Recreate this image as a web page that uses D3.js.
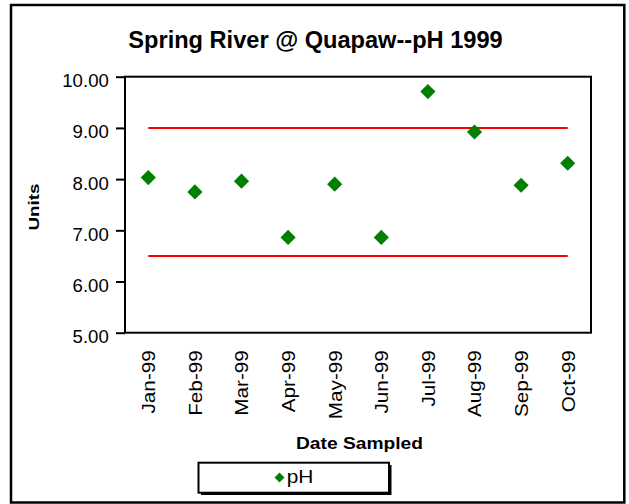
<!DOCTYPE html>
<html>
<head>
<meta charset="utf-8">
<script src="https://cdn.jsdelivr.net/npm/d3@7/dist/d3.min.js"></script>
<style>
  html, body { margin: 0; padding: 0; background: #fff; }
  svg { display: block; font-family: "Liberation Sans", Arial, sans-serif; }
</style>
</head>
<body>
<svg id="chart" width="629" height="504"></svg>
<script>
// ---- data ----
const categories = ["Jan-99","Feb-99","Mar-99","Apr-99","May-99","Jun-99","Jul-99","Aug-99","Sep-99","Oct-99"];
const phValues   = [8.03, 7.75, 7.96, 6.86, 7.90, 6.86, 9.71, 8.92, 7.88, 8.31];
const upperLimit = 9.0;
const lowerLimit = 6.5;
const yTicks     = [5, 6, 7, 8, 9, 10];
const titleText  = "Spring River @ Quapaw--pH 1999";
const xTitle     = "Date Sampled";
const yTitle     = "Units";
const seriesName = "pH";

// ---- layout ----
const svg = d3.select("#chart");
const plot = { left: 125, right: 591, top: 76.7, bottom: 332.7 };

const x = d3.scalePoint().domain(categories).range([plot.left, plot.right]).padding(0.5);
const y = d3.scaleLinear().domain([5, 10]).range([plot.bottom, plot.top]);

// outer chart border
svg.append("rect")
  .attr("x", 11).attr("y", 5).attr("width", 613.3).attr("height", 497.5)
  .attr("fill", "#fff").attr("stroke", "#000").attr("stroke-width", 2.5);

// title
svg.append("text")
  .attr("x", 315.5).attr("y", 47.5)
  .attr("text-anchor", "middle")
  .attr("font-size", 23.6).attr("font-weight", "bold")
  .text(titleText);

// plot frame
svg.append("rect")
  .attr("x", plot.left).attr("y", plot.top)
  .attr("width", plot.right - plot.left).attr("height", plot.bottom - plot.top)
  .attr("fill", "#fff").attr("stroke", "#000").attr("stroke-width", 2);

// y axis
const yAxis = d3.axisLeft(y).tickValues(yTicks).tickSize(9).tickPadding(6)
  .tickFormat(d3.format(".2f"));
const gy = svg.append("g").attr("transform", `translate(${plot.left},0)`).call(yAxis);
gy.select(".domain").remove();
gy.selectAll(".tick line").attr("stroke", "#000").attr("stroke-width", 2);
gy.selectAll(".tick text")
  .attr("font-size", 18.6).attr("font-family", "Liberation Sans, Arial, sans-serif")
  .attr("fill", "#000").attr("x", -16.2).attr("dy", null).attr("y", 10);

// x axis (labels only)
const xAxis = d3.axisBottom(x).tickSize(0).tickPadding(0);
const gx = svg.append("g").attr("transform", `translate(0,${plot.bottom})`).call(xAxis);
gx.select(".domain").remove();
gx.selectAll(".tick text")
  .attr("font-size", 18).attr("font-family", "Liberation Sans, Arial, sans-serif")
  .attr("fill", "#000")
  .attr("text-anchor", "end")
  .attr("transform", "translate(0,17.5) rotate(-90)")
  .attr("x", 0).attr("y", 0).attr("dy", "0.35em")
  .each(function() {
    const len = this.getComputedTextLength();
    d3.select(this).attr("textLength", len * 1.15).attr("lengthAdjust", "spacingAndGlyphs");
  });

// limit lines
const limits = [upperLimit, lowerLimit];
svg.append("g").selectAll("line").data(limits).join("line")
  .attr("x1", x(categories[0])).attr("x2", x(categories[categories.length - 1]))
  .attr("y1", d => y(d)).attr("y2", d => y(d))
  .attr("stroke", "#ff0000").attr("stroke-width", 2);

// markers
function diamond(cx, cy, r) {
  return `M${cx},${cy - r}L${cx + r},${cy}L${cx},${cy + r}L${cx - r},${cy}Z`;
}
svg.append("g").selectAll("path").data(phValues).join("path")
  .attr("d", (d, i) => diamond(x(categories[i]), y(d), 7.6))
  .attr("fill", "#008000");

// axis titles
svg.append("text")
  .attr("x", 359.5).attr("y", 449.3)
  .attr("text-anchor", "middle")
  .attr("font-size", 16).attr("font-weight", "bold")
  .attr("textLength", 127).attr("lengthAdjust", "spacingAndGlyphs")
  .text(xTitle);

svg.append("text")
  .attr("transform", "translate(38.6,207) rotate(-90)")
  .attr("text-anchor", "middle")
  .attr("font-size", 15).attr("font-weight", "bold")
  .attr("textLength", 47).attr("lengthAdjust", "spacingAndGlyphs")
  .text(yTitle);

// legend
const lg = svg.append("g");
lg.append("rect")
  .attr("x", 201).attr("y", 465).attr("width", 190.5).attr("height", 30)
  .attr("fill", "#000");
lg.append("rect")
  .attr("x", 198.5).attr("y", 462.7).attr("width", 190.5).attr("height", 30)
  .attr("fill", "#fff").attr("stroke", "#000").attr("stroke-width", 2);
lg.append("path").attr("d", diamond(279.5, 477.5, 5)).attr("fill", "#008000");
lg.append("text")
  .attr("x", 286.7).attr("y", 482.7)
  .attr("font-size", 17.5)
  .attr("textLength", 26.7).attr("lengthAdjust", "spacingAndGlyphs")
  .text(seriesName);
</script>
</body>
</html>
